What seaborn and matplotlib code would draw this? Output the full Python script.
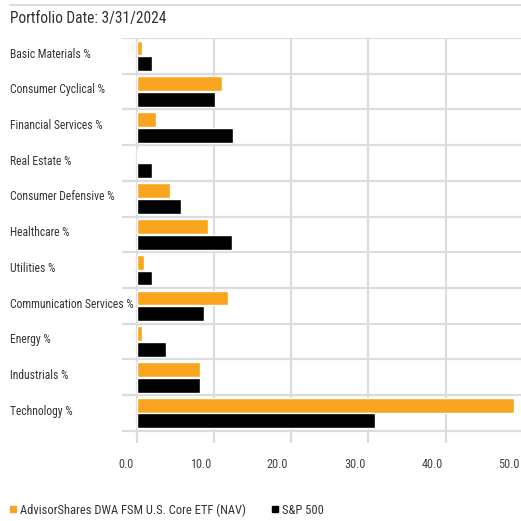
import matplotlib
matplotlib.use("Agg")
import matplotlib.pyplot as plt
import matplotlib.transforms as mtransforms
from matplotlib.lines import Line2D
import pandas as pd
import seaborn as sns

sectors = ["Basic Materials %", "Consumer Cyclical %", "Financial Services %",
           "Real Estate %", "Consumer Defensive %", "Healthcare %", "Utilities %",
           "Communication Services %", "Energy %", "Industrials %", "Technology %"]
fund = [0.7, 11.0, 2.5, 0.0, 4.3, 9.2, 0.9, 11.8, 0.7, 8.2, 48.9]
sp500 = [2.0, 10.2, 12.5, 2.0, 5.8, 12.3, 2.0, 8.7, 3.8, 8.2, 30.8]
series_names = ["AdvisorShares DWA FSM U.S. Core ETF (NAV)", "S&P 500"]
xticks = [0, 10, 20, 30, 40, 50]

orange = "#F9A51F"
black = "#000000"
grid = "#DCDCDC"
text_col = "#333333"

df = pd.DataFrame({
    "sector": sectors * 2,
    "value": fund + sp500,
    "series": [series_names[0]] * len(sectors) + [series_names[1]] * len(sectors),
})

sns.set_style("white")
plt.rcParams["font.family"] = ["Roboto Condensed", "Roboto", "DejaVu Sans"]

fig = plt.figure(figsize=(5.21, 5.21), dpi=100)
W = H = 521
# axes: left 122px, top 38px, bottom 443px
ax = fig.add_axes([122 / W, 1 - 443 / H, (528 - 122) / W, (443 - 38) / H])

sns.barplot(data=df, y="sector", x="value", hue="series", orient="h",
            palette=[orange, black], width=0.88, gap=0.06, saturation=1,
            legend=False, ax=ax, zorder=3)

ax.set_xlim(-1.9, 50.65)
ax.set_ylim(len(sectors) - 0.5 + 0.34, -0.5)
for i in range(len(sectors) + 1):
    ax.axhline(i - 0.5, color=grid, lw=1.6, zorder=1)
for x in xticks:
    ax.axvline(x, color=grid, lw=1.6, zorder=1)

for s in ax.spines.values():
    s.set_visible(False)
ax.set_xticks(xticks)
ax.set_xticklabels([f"{v:.1f}" for v in xticks], fontsize=8.8, color="#444444", ha="right")
ax.tick_params(axis="x", length=0, pad=11)
shift = mtransforms.ScaledTranslation(-3 / 100, 0, fig.dpi_scale_trans)
for lab in ax.get_xticklabels():
    lab.set_transform(lab.get_transform() + shift)
ax.set_yticks([])
ax.set_xlabel("")
ax.set_ylabel("")

trans = mtransforms.blended_transform_factory(fig.transFigure, ax.transData)
for i, name in enumerate(sectors):
    ax.text(10 / W, i - 0.05, name, transform=trans, ha="left", va="center",
            fontsize=8.4, color=text_col)

fig.text(10 / W, 1 - 19 / H, "Portfolio Date: 3/31/2024", ha="left", va="center",
         fontsize=11.2, color=text_col)
fig.add_artist(Line2D([10 / W, 1], [1 - 5 / H, 1 - 5 / H], color=grid, lw=1.5,
                      transform=fig.transFigure))

handles = [Line2D([], [], marker="s", linestyle="", color=c, markersize=4.6)
           for c in (orange, black)]
fig.legend(handles, series_names, loc="center left", bbox_to_anchor=(9.5 / W, 1 - 510 / H),
           ncol=2, frameon=False, fontsize=9, handletextpad=0.2, handlelength=0.6,
           columnspacing=2.1, borderpad=0, borderaxespad=0, labelcolor=text_col)

fig.savefig("out.png", dpi=100)
